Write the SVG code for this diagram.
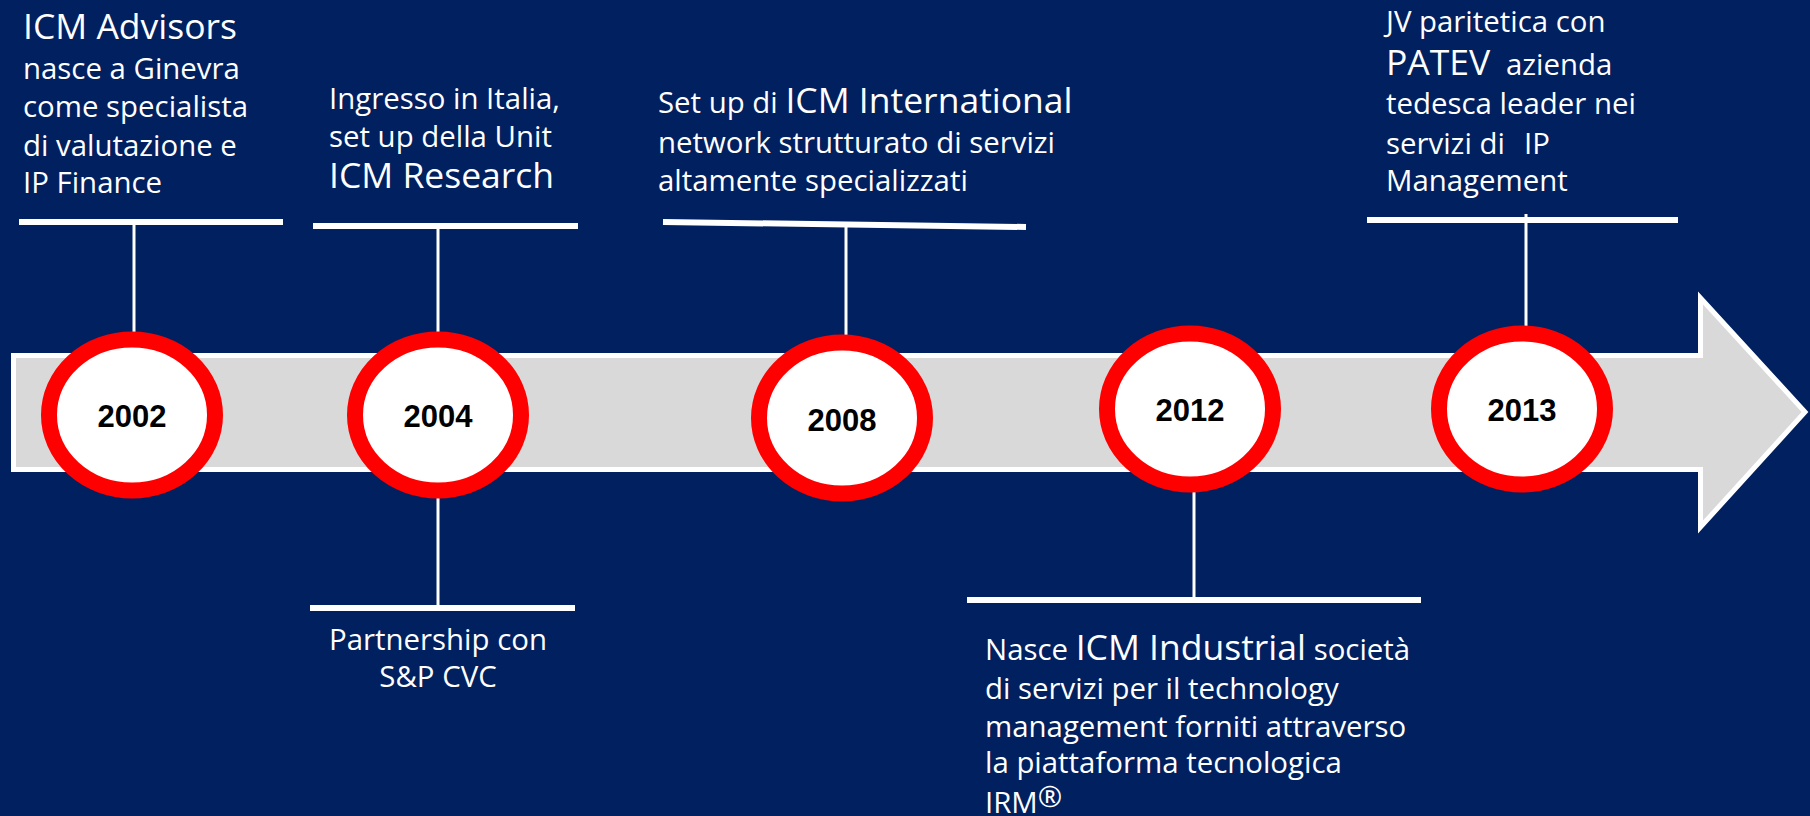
<svg xmlns="http://www.w3.org/2000/svg" width="1810" height="816" viewBox="0 0 1810 816">
<style>
.bg{fill:#002060}
.arrow{fill:#D9D9D9;stroke:#FFFFFF;stroke-width:5;stroke-linejoin:miter}
.bar{stroke:#FFFFFF;stroke-width:6;fill:none}
.stem{stroke:#FFFFFF;stroke-width:3;fill:none}
.ring{fill:#FFFFFF;stroke:#FF0000;stroke-width:16}
.year{font-family:"Liberation Sans",Arial,sans-serif;font-weight:bold;font-size:31px;fill:#000000;text-anchor:middle}
.txt{font-family:"Open Sans","Noto Sans",sans-serif;font-size:29.4px;fill:#FFFFFF}
.big{font-size:35.5px}
</style>
<rect class="bg" x="0" y="0" width="1810" height="816"/>
<g id="timeline-arrow">
<polygon class="arrow" points="13.5,355.5 1700.5,355.5 1700.5,298 1805,412 1700.5,527 1700.5,469.5 13.5,469.5"/>
</g>
<g id="connectors">
<line class="bar" x1="19" y1="222" x2="283" y2="222"/>
<line class="stem" x1="134" y1="222" x2="134" y2="340"/>
<line class="bar" x1="313" y1="226" x2="578" y2="226"/>
<line class="stem" x1="438" y1="226" x2="438" y2="340"/>
<line class="stem" x1="438" y1="490" x2="438" y2="608"/>
<line class="bar" x1="310" y1="608" x2="575" y2="608"/>
<line class="bar" x1="663" y1="222" x2="1026" y2="227"/>
<line class="stem" x1="846" y1="225" x2="846" y2="345"/>
<line class="stem" x1="1194" y1="485" x2="1194" y2="600"/>
<line class="bar" x1="967" y1="600" x2="1421" y2="600"/>
<line class="bar" x1="1367" y1="220" x2="1678" y2="220"/>
<line class="stem" x1="1526" y1="214" x2="1526" y2="335"/>
</g>
<g id="node-2002">
<ellipse class="ring" cx="132" cy="415" rx="83" ry="75.5"/>
<text class="year" x="132" y="427">2002</text>
<text class="txt" x="23" y="39"><tspan class="big">ICM Advisors</tspan></text>
<text class="txt" x="23" y="79">nasce a Ginevra</text>
<text class="txt" x="23" y="117">come specialista</text>
<text class="txt" x="23" y="156">di valutazione e</text>
<text class="txt" x="23" y="193">IP Finance</text>
</g>
<g id="node-2004">
<ellipse class="ring" cx="438" cy="415" rx="83" ry="75.5"/>
<text class="year" x="438" y="427">2004</text>
<text class="txt" x="329" y="109">Ingresso in Italia,</text>
<text class="txt" x="329" y="147">set up della Unit</text>
<text class="txt" x="329" y="188"><tspan class="big">ICM Research</tspan></text>
<text class="txt" x="438" y="650" text-anchor="middle">Partnership con</text>
<text class="txt" x="438" y="687" text-anchor="middle">S&amp;P CVC</text>
</g>
<g id="node-2008">
<ellipse class="ring" cx="842" cy="418" rx="83" ry="75.5"/>
<text class="year" x="842" y="431">2008</text>
<text class="txt" x="658" y="113">Set up di <tspan class="big">ICM International</tspan></text>
<text class="txt" x="658" y="153">network strutturato di servizi</text>
<text class="txt" x="658" y="191">altamente specializzati</text>
</g>
<g id="node-2012">
<ellipse class="ring" cx="1190" cy="409" rx="83" ry="75.5"/>
<text class="year" x="1190" y="421">2012</text>
<text class="txt" x="985" y="660">Nasce <tspan class="big">ICM Industrial</tspan> società</text>
<text class="txt" x="985" y="699">di servizi per il technology</text>
<text class="txt" x="985" y="737">management forniti attraverso</text>
<text class="txt" x="985" y="773">la piattaforma tecnologica</text>
<text class="txt" x="985" y="813">IRM<tspan dy="-6">®</tspan></text>
</g>
<g id="node-2013">
<ellipse class="ring" cx="1522" cy="409" rx="83" ry="75.5"/>
<text class="year" x="1522" y="421">2013</text>
<text class="txt" x="1386" y="32">JV paritetica con</text>
<text class="txt" x="1386" y="75"><tspan class="big">PATEV</tspan><tspan x="1506">azienda</tspan></text>
<text class="txt" x="1386" y="114">tedesca leader nei</text>
<text class="txt" x="1386" y="154">servizi di<tspan x="1524">IP</tspan></text>
<text class="txt" x="1386" y="191">Management</text>
</g>
</svg>
